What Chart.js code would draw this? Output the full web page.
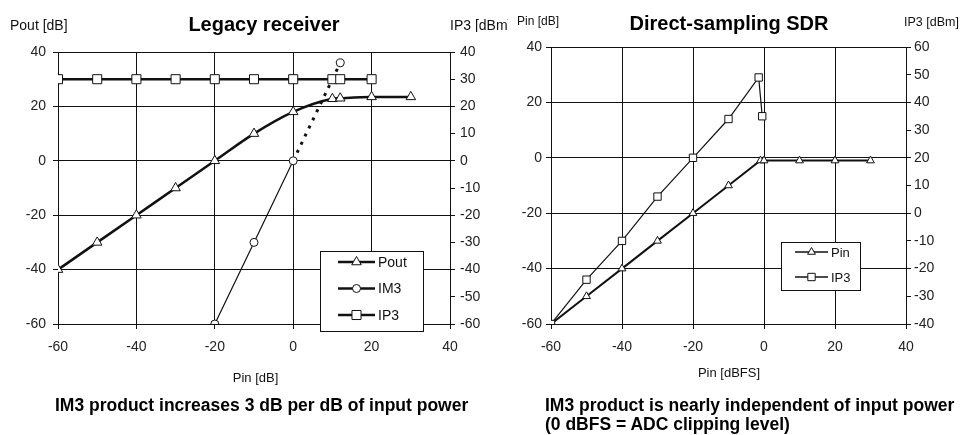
<!DOCTYPE html>
<html lang="en">
<head>
  <meta charset="UTF-8" />
  <title>Legacy receiver vs direct-sampling SDR</title>
  <script src="https://cdn.jsdelivr.net/npm/chart.js"></script>
  <style>
    body { margin: 0; background: #fff; font-family: 'Liberation Sans', Arial, sans-serif; }
    #wrap { position: relative; width: 962px; height: 435px; overflow: hidden; background: #fff; }
    #wrap canvas { position: absolute; left: 0; top: 0; }
    .t { position: absolute; white-space: nowrap; line-height: 1; color: #111; }
    .title { font-weight: bold; font-size: 20px; color: #000; text-align: center; }
    .cap { font-weight: bold; font-size: 17.5px; color: #000; }
  </style>
</head>
<body>
  <div id="wrap">
    <canvas id="legacyChart" width="962" height="435"></canvas>
    <canvas id="sdrChart" width="962" height="435"></canvas>

    <div class="t title" style="left:0; width:528px; top:14px;">Legacy receiver</div>
    <div class="t" style="left:10px; top:18px; font-size:14px;">Pout [dB]</div>
    <div class="t" style="left:450px; top:18px; font-size:14px; width:58px; overflow:hidden;">IP3 [dBm]</div>
    <div class="t" style="left:0; width:511px; text-align:center; top:371px; font-size:13px;">Pin [dB]</div>

    <div class="t title" style="left:480px; width:498px; top:13px;">Direct-sampling SDR</div>
    <div class="t" style="left:517px; top:15px; font-size:12px;">Pin [dB]</div>
    <div class="t" style="left:904px; top:16px; font-size:12.5px;">IP3 [dBm]</div>
    <div class="t" style="left:480px; width:498px; text-align:center; top:366px; font-size:13px;">Pin [dBFS]</div>

    <div class="t cap" style="left:55px; top:397px;">IM3 product increases 3 dB per dB of input power</div>
    <div class="t cap" style="left:545px; top:396px; line-height:19px;">IM3 product is nearly independent of input power<br>(0 dBFS = ADC clipping level)</div>
  </div>

  <script>
    // Legacy receiver
    const legacyPoutX = [-60, -50, -40, -30, -20, -10, 0, 10, 12, 20, 30];
    const legacyPoutY = [-40, -30, -20, -10, 0, 10, 18, 22.8, 23, 23.5, 23.5];
    const legacyIm3X = [-20, -10, 0];
    const legacyIm3Y = [-60, -30, 0];
    const legacyIm3ExtX = [0, 12];
    const legacyIm3ExtY = [0, 36];
    const legacyIp3X = [-60, -50, -40, -30, -20, -10, 0, 10, 12, 20];
    const legacyIp3Y = [30, 30, 30, 30, 30, 30, 30, 30, 30, 30];

    // Direct-sampling SDR
    const sdrPinX = [-60, -50, -40, -30, -20, -10, -1, 0, 10, 20, 30];
    const sdrPinY = [-60, -50, -40, -30, -20, -10, -1, -1, -1, -1, -1];
    const sdrIp3X = [-60, -50, -40, -30, -20, -10, -1.5, -0.5];
    const sdrIp3Y = [-40, -24, -10, 6, 20, 34, 49, 35];

    const pts = (xs, ys) => xs.map((x, i) => ({ x, y: ys[i] }));

    Chart.defaults.font.family = "'Liberation Sans', Arial, sans-serif";
    Chart.defaults.font.size = 14;
    Chart.defaults.color = '#222';

    const INK = '#111';

    // legend drawn as a framed box inside the plot, like the original
    const boxLegend = {
      id: 'boxLegend',
      afterDraw(chart, args, o) {
        const ctx = chart.ctx;
        ctx.save();
        ctx.fillStyle = '#fff';
        ctx.fillRect(o.x, o.y, o.w, o.h);
        ctx.strokeStyle = INK;
        ctx.lineWidth = 1;
        ctx.strokeRect(o.x + 0.5, o.y + 0.5, o.w, o.h);
        ctx.font = o.fontSize + "px 'Liberation Sans', Arial, sans-serif";
        ctx.textBaseline = 'middle';
        chart.data.datasets.filter(d => !d.noLegend).forEach((ds, i) => {
          const cy = o.y + o.row0 + i * o.rowH;
          ctx.strokeStyle = INK;
          ctx.lineWidth = o.lineWidth;
          ctx.beginPath();
          ctx.moveTo(o.x + o.line0, cy);
          ctx.lineTo(o.x + o.line1, cy);
          ctx.stroke();
          ctx.fillStyle = '#fff';
          ctx.lineWidth = 1;
          Chart.helpers.drawPoint(ctx, { pointStyle: ds.pointStyle, radius: o.markR[i], borderWidth: 1, rotation: 0 },
            o.x + (o.line0 + o.line1) / 2, cy);
          ctx.fillStyle = '#111';
          ctx.fillText(ds.label, o.x + o.line1 + 3, cy + 1);
        });
        ctx.restore();
      }
    };

    function scales(opt) {
      return {
        x: {
          type: 'linear', min: -60, max: 40,
          ticks: { stepSize: 20, padding: opt.xPad, font: { size: 14 } },
          grid: { color: INK, lineWidth: 1, tickLength: 5 },
          border: { color: INK, width: 1 },
          afterFit: s => { s.height = opt.xH; }
        },
        y: {
          type: 'linear', position: 'left', min: -60, max: 40,
          ticks: { stepSize: 20, padding: opt.yPad, font: { size: 14 } },
          grid: { color: INK, lineWidth: 1, tickLength: 5 },
          border: { color: INK, width: 1 },
          afterFit: s => { s.width = opt.yW; }
        },
        y2: {
          type: 'linear', position: 'right', min: opt.y2Min, max: opt.y2Max,
          ticks: { stepSize: 10, padding: opt.y2Pad, font: { size: 14 } },
          grid: { drawOnChartArea: false, color: INK, lineWidth: 1, tickLength: 5 },
          border: { color: INK, width: 1 },
          afterFit: s => { s.width = opt.y2W; }
        }
      };
    }

    const base = {
      responsive: false,
      animation: false,
      devicePixelRatio: 1,
      events: [],
      plugins: { legend: { display: false }, tooltip: { enabled: false } }
    };

    new Chart(document.getElementById('legacyChart'), {
      type: 'scatter',
      data: {
        datasets: [
          {
            label: 'Pout', data: pts(legacyPoutX, legacyPoutY), yAxisID: 'y', showLine: true,
            borderColor: INK, borderWidth: 2.5, cubicInterpolationMode: 'monotone',
            pointStyle: 'triangle', pointRadius: 5.5, pointBorderWidth: 1,
            pointBackgroundColor: '#fff', pointBorderColor: INK
          },
          {
            label: 'IM3', data: pts(legacyIm3X, legacyIm3Y), yAxisID: 'y', showLine: true,
            borderColor: INK, borderWidth: 1.2,
            pointStyle: 'circle', pointRadius: 4, pointBorderWidth: 1,
            pointBackgroundColor: '#fff', pointBorderColor: INK
          },
          {
            label: 'IP3', data: pts(legacyIp3X, legacyIp3Y), yAxisID: 'y2', showLine: true,
            borderColor: INK, borderWidth: 2.5,
            pointStyle: 'rect', pointRadius: 6.4, pointBorderWidth: 1,
            pointBackgroundColor: '#fff', pointBorderColor: INK
          },
          {
            label: 'IM3 extrapolated', noLegend: true, data: pts(legacyIm3ExtX, legacyIm3ExtY), yAxisID: 'y',
            showLine: true, borderColor: INK, borderWidth: 3, borderDash: [3, 6],
            pointStyle: 'circle', pointRadius: [0, 4], pointBorderWidth: 1,
            pointBackgroundColor: '#fff', pointBorderColor: INK
          }
        ]
      },
      options: Object.assign({}, base, {
        layout: { padding: { top: 52, left: 0, right: 0, bottom: 0 } },
        scales: scales({ xH: 111, yW: 58, y2W: 962 - 450, y2Min: -60, y2Max: 40, xPad: 10, yPad: 7, y2Pad: 5 }),
        plugins: Object.assign({}, base.plugins, {
          boxLegend: { x: 320, y: 251, w: 103, h: 80, row0: 11, rowH: 26.5, line0: 18, line1: 55,
                       lineWidth: 2.5, fontSize: 14, markR: [5.5, 4, 6.4] }
        })
      }),
      plugins: [boxLegend]
    });

    new Chart(document.getElementById('sdrChart'), {
      type: 'scatter',
      data: {
        datasets: [
          {
            label: 'Pin', data: pts(sdrPinX, sdrPinY), yAxisID: 'y', showLine: true, order: 1,
            borderColor: INK, borderWidth: 2,
            pointStyle: 'triangle', pointRadius: 4.5, pointBorderWidth: 1,
            pointBackgroundColor: '#fff', pointBorderColor: INK
          },
          {
            label: 'IP3', data: pts(sdrIp3X, sdrIp3Y), yAxisID: 'y2', showLine: true, order: 0,
            borderColor: INK, borderWidth: 1.2,
            pointStyle: 'rect', pointRadius: 5.2, pointBorderWidth: 1,
            pointBackgroundColor: '#fff', pointBorderColor: INK
          }
        ]
      },
      options: Object.assign({}, base, {
        layout: { padding: { top: 47, left: 0, right: 0, bottom: 0 } },
        scales: scales({ xH: 111, yW: 551, y2W: 962 - 906, y2Min: -40, y2Max: 60, xPad: 10, yPad: 4, y2Pad: 3 }),
        plugins: Object.assign({}, base.plugins, {
          boxLegend: { x: 781, y: 242, w: 79, h: 48, row0: 10, rowH: 25, line0: 14, line1: 47,
                       lineWidth: 1.5, fontSize: 13, markR: [4.5, 5.2] }
        })
      }),
      plugins: [boxLegend]
    });
  </script>
</body>
</html>
